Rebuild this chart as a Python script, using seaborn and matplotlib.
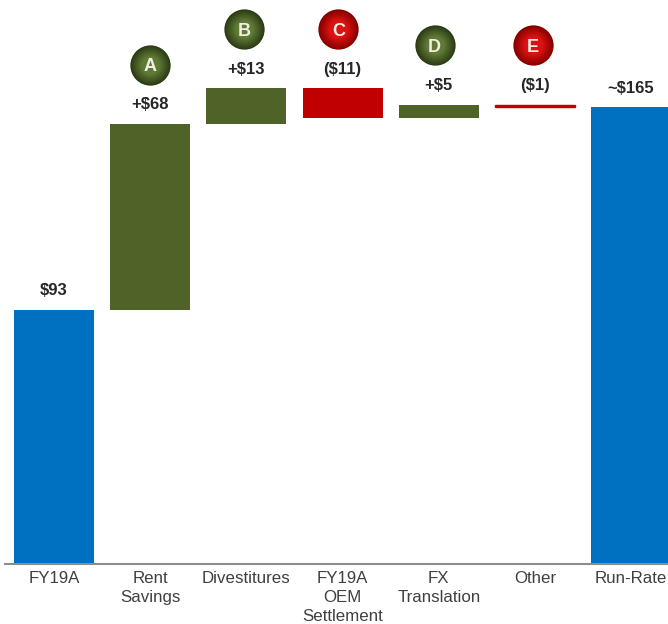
import numpy as np
import matplotlib
matplotlib.use('Agg')
import matplotlib.pyplot as plt
from matplotlib.transforms import ScaledTranslation
import seaborn as sns

categories = ['FY19A', 'Rent\nSavings', 'Divestitures', 'FY19A\nOEM\nSettlement', 'FX\nTranslation', 'Other', 'Run-Rate']
bottoms = [0, 93, 161, 163, 163, 167, 0]
heights = [93, 68, 13, 11, 5, 1, 167]
value_labels = ['$93', '+$68', '+$13', '($11)', '+$5', '($1)', '~$165']
kinds = ['total', 'up', 'up', 'down', 'up', 'down', 'total']
badges = ['', 'A', 'B', 'C', 'D', 'E', '']
# badges do not sit quite centred over their bars (points)
badge_nudge = [0, 0, -1.5, -3, -3, -1.5, 0]

BLUE = '#0070C0'
GREEN = '#4F6228'
RED = '#C00000'
colors = {'total': BLUE, 'up': GREEN, 'down': RED}
# edge -> centre shades for the round badges
shades = {'up': ('#2B3A15', '#5F7A35'), 'down': ('#860000', '#DC1212')}

sns.set_theme(style='white')
plt.rcParams['font.family'] = ['Liberation Sans', 'DejaVu Sans']

W, H = 668, 624
fig = plt.figure(figsize=(W / 100, H / 100), dpi=100)
ax = fig.add_axes([5 / W, (H - 564) / H, (W - 5) / W, 564 / H])

# one barplot call per bar so each can float on its own bottom
for cat, b, h, k in zip(categories, bottoms, heights, kinds):
    sns.barplot(x=[cat], y=[h], bottom=b, order=categories, color=colors[k],
                width=0.832, saturation=1, ax=ax, edgecolor=colors[k],
                linewidth=1.0 if h < 2 else 0)

ax.set_xlim(-0.51, 6.383)
ax.set_ylim(0, 564 / 2.735)
ax.set_yticks([])
ax.set_ylabel('')
ax.tick_params(axis='x', length=0, pad=5, labelsize=12.2, labelcolor='#404040')
for lab in ax.get_xticklabels():
    lab.set_linespacing(1.32)
sns.despine(ax=ax, left=True)
ax.spines['bottom'].set_color('#8C8C8C')
ax.spines['bottom'].set_linewidth(1.5)

for i, (b, h, txt) in enumerate(zip(bottoms, heights, value_labels)):
    ax.annotate(txt, (i, b + h), xytext=(0, 13.7), textcoords='offset points',
                ha='center', va='center', fontsize=12, fontweight='bold',
                color='#262626')

# badges: stacked circles fake the glossy gradient
for i, (b, h, letter, k) in enumerate(zip(bottoms, heights, badges, kinds)):
    if not letter:
        continue
    y = b + h
    dx, dy = badge_nudge[i], 42.5
    edge_rgb = np.array(matplotlib.colors.to_rgb(shades[k][0]))
    centre_rgb = np.array(matplotlib.colors.to_rgb(shades[k][1]))
    shift = ax.transData + ScaledTranslation(dx / 72, dy / 72, fig.dpi_scale_trans)
    for t in np.linspace(0, 1, 14):
        d = 29 * (1 - t) + 13 * t
        ax.plot([i], [y], marker='o', ms=d, mew=0, ls='none', clip_on=False,
                color=edge_rgb * (1 - t) + centre_rgb * t, transform=shift)
    ax.annotate(letter, (i, y), xytext=(dx, dy), textcoords='offset points', ha='center',
                va='center_baseline', fontsize=13, fontweight='bold', color='#F0EFE4')

fig.savefig('out.png', dpi=100)
